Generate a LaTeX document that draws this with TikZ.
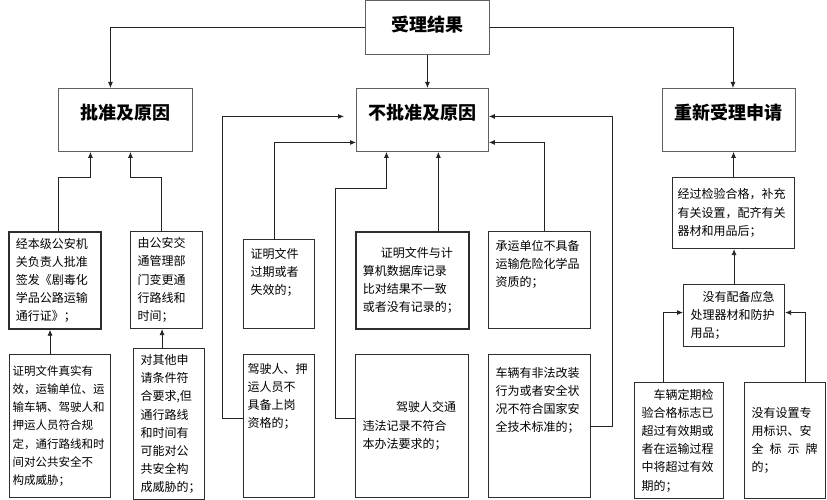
\documentclass[tikz,border=0pt]{standalone}
\usepackage{fontspec}
\setmainfont{Noto Sans CJK SC}
\usepackage{xcolor}
\usepackage{tikz}
\usetikzlibrary{arrows.meta,positioning}
\definecolor{hgray}{RGB}{95,95,95}
\definecolor{bgray}{RGB}{45,45,45}
\definecolor{wgray}{RGB}{35,35,35}

\begin{document}
\begin{tikzpicture}[
  x=1pt,y=-1pt,
  hd/.style={draw=hgray,line width=0.9pt,anchor=north west,inner sep=0pt,
             font=\fontsize{18}{20}\selectfont\bfseries,text height=31pt,text depth=#1},
  hd/.default=32pt,
  cell/.style={draw=bgray,line width=1.1pt,anchor=north west,align=left,
               inner xsep=7pt,inner ysep=0pt,
               font=\fontsize{12}{18.2}\selectfont},
  heavy/.style={cell,line width=1.7pt},
  topc/.style={text height=18.6pt,text depth=#1},
  wire/.style={draw=wgray,line width=0.8pt},
  arr/.style={wire,-{Latex[length=6pt,width=5pt]}},
  ]
  \useasboundingbox (0,0) rectangle (827,500);
  \node[hd=23pt,minimum width=124pt] (hres) at (365,0)  {受理结果};
  \node[hd,minimum width=134pt]      (hok)  at (58,88)  {批准及原因};
  \node[hd,minimum width=132pt]      (hno)  at (356,88) {不批准及原因};
  \node[hd,minimum width=133pt]      (hre)  at (662,88) {重新受理申请};
  \node[heavy,text width=78pt,minimum height=97pt] (ok1) at (8,231)
    {经本级公安机\\关负责人批准\\签发《剧毒化\\学品公路运输\\通行证》；};
  \node[cell,text width=58pt,minimum height=97pt] (ok2) at (130,231)
    {由公安交\\通管理部\\门变更通\\行路线和\\时间；};
  \node[cell,inner xsep=3pt,text width=95pt,minimum height=143pt,
        font=\fontsize{11.5}{18.2}\selectfont] (ok3) at (9,354)
    {证明文件真实有\\效，运输单位、运\\输车辆、驾驶人和\\押运人员符合规\\定，通行路线和时\\间对公共安全不\\构成威胁；};
  \node[cell,text width=57pt,minimum height=151pt] (ok4) at (133,348)
    {对其他申\\请条件符\\合要求,但\\通行路线\\和时间有\\可能对公\\共安全构\\成威胁的；};
  \node[cell,text width=57pt,topc=70.4pt] (no1) at (243,239)
    {证明文件\\过期或者\\失效的；};
  \node[cell,inner xsep=4pt,text width=63pt,topc=124.4pt] (no2) at (243,354)
    {驾驶人、押\\运人员不\\具备上岗\\资格的；};
  \node[heavy,text width=99pt,minimum height=97pt] (no3) at (355,231)
    {\hspace*{1.5em}证明文件与计\\算机数据库记录\\比对结果不一致\\或者没有记录的；};
  \node[cell,text width=99pt,minimum height=143pt] (no4) at (355,354)
    {\hspace*{2.8em}驾驶人交通\\违法记录不符合\\本办法要求的；};
  \node[cell,text width=88pt,topc=78.4pt] (no5) at (488,231)
    {承运单位不具备\\运输危险化学品\\资质的；};
  \node[cell,text width=88pt,topc=120.4pt,text height=22.6pt] (no6) at (488,354)
    {车辆有非法改装\\行为或者安全状\\况不符合国家安\\全技术标准的；};
  \node[cell,inner xsep=5pt,text width=112pt,minimum height=71pt] (re1) at (672,177)
    {经过检验合格，补充\\有关设置，配齐有关\\器材和用品后；};
  \node[cell,text width=87pt,minimum height=62pt] (re2) at (683,284)
    {\hspace*{1em}没有配备应急\\处理器材和防护\\用品；};
  \node[cell,text width=75pt,minimum height=116pt] (re3) at (634,382)
    {\hspace*{1em}车辆定期检\\验合格标志已\\超过有效期或\\者在运输过程\\中将超过有效\\期的；};
  \node[cell,text width=67pt,minimum height=116pt] (re4) at (744,382)
    {没有设置专\\用标识、安\\全\hspace{6pt}标\hspace{6pt}示\hspace{6pt}牌\\的；};
  \draw[arr] (hres.west) -| ([xshift=-15pt]hok.north);
  \draw[arr] (hres.south) -- (hres.south |- hno.north);
  \draw[arr] (hres.east) -| ([xshift=4pt]hre.north);
  \draw[arr] ([xshift=4pt]ok1.north) -- ++(0,-54) -| ([xshift=-35pt]hok.south);
  \draw[arr] ([xshift=-5pt]ok2.north) -- ++(0,-54) -| ([xshift=5pt]hok.south);
  \draw[arr] ([xshift=-10pt]ok3.north) -- ([xshift=-10pt]ok3.north |- ok1.south);
  \draw[arr] ([xshift=-7pt]ok4.north) -- ([xshift=-7pt]ok4.north |- ok2.south);
  \draw[arr,shorten >=12pt] ([yshift=8pt]no2.west) -- ++(-21,0) |- ([yshift=3.5pt]hno.west);
  \draw[arr] ([xshift=-5pt]no1.north) |- ([yshift=-22.5pt]hno.west);
  \draw[arr] ([yshift=8pt]no4.west) -- ++(-20,0) -- ++(0,-230) -| ([xshift=-36pt]hno.south);
  \draw[arr] ([xshift=26pt]no3.north) -- ([xshift=26pt]no3.north |- hno.south);
  \draw[arr] ([xshift=5pt]no5.north) |- ([yshift=-22.5pt]hno.east);
  \draw[arr] (no6.east) -- ++(21,0) |- ([yshift=3.5pt]hno.east);
  \draw[arr] (re1.north) -- (re1.north |- hre.south);
  \draw[arr] (re2.north) -- (re2.north |- re1.south);
  \draw[arr] ([xshift=-16pt]re3.north) |- ([yshift=3pt]re2.west);
  \draw[arr] ([xshift=20pt]re4.north) |- ([yshift=3pt]re2.east);
\end{tikzpicture}
\end{document}
